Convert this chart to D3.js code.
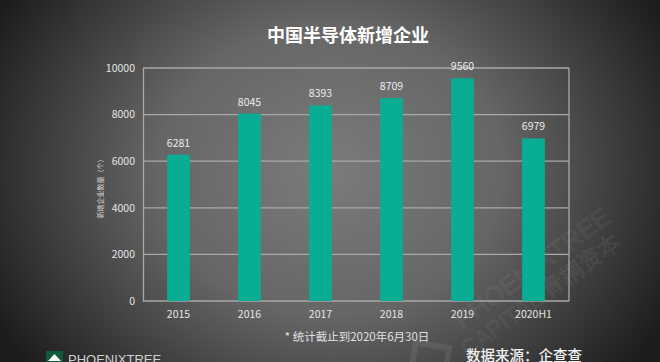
<!DOCTYPE html>
<html>
<head>
<meta charset="utf-8">
<script src="https://cdn.jsdelivr.net/npm/d3@7"></script>
<style>
  html, body { margin: 0; padding: 0; background: #333; }
  svg { display: block; }
</style>
</head>
<body>
<div id="chart"></div>
<script>
// chart data
var categories = ["2015", "2016", "2017", "2018", "2019", "2020H1"];
var newFirms = [6281, 8045, 8393, 8709, 9560, 6979];
var yTicks = [0, 2000, 4000, 6000, 8000, 10000];

var W = 660, H = 362;
var margin = { top: 68, right: 91, bottom: 61, left: 143 };
var font = "'Noto Sans CJK SC', 'Noto Sans', sans-serif";

var svg = d3.select("#chart").append("svg")
  .attr("width", W).attr("height", H);

// background: grey radial glow, dark corners
var defs = svg.append("defs");
var rg = defs.append("radialGradient").attr("id", "bg")
  .attr("gradientUnits", "userSpaceOnUse")
  .attr("cx", 330).attr("cy", 170).attr("r", 380)
  .attr("gradientTransform", "translate(330,170) scale(1,0.85) translate(-330,-170)");
rg.append("stop").attr("offset", "0%").attr("stop-color", "#7b7b7b");
rg.append("stop").attr("offset", "45%").attr("stop-color", "#666");
rg.append("stop").attr("offset", "100%").attr("stop-color", "#1c1c1c");
svg.append("rect").attr("width", W).attr("height", H).attr("fill", "url(#bg)");

var x = d3.scaleBand().domain(categories)
  .range([margin.left, W - margin.right])
  .paddingInner(0.68).paddingOuter(0.34);
var y = d3.scaleLinear().domain([0, 10000])
  .range([H - margin.bottom, margin.top]);

// faint watermark, bottom right (rotated group)
var wm = svg.append("g")
  .attr("transform", "translate(462,330) rotate(-36)")
  .attr("fill", "#fff").attr("fill-opacity", 0.04)
  .attr("stroke", "#fff").attr("stroke-opacity", 0.08).attr("stroke-width", 0.8)
  .attr("font-family", "'Liberation Sans', sans-serif");
wm.append("text").attr("x", 0).attr("y", 0)
  .attr("font-size", 26).text("PHOENIXTREE");
wm.append("text").attr("x", -12).attr("y", 26)
  .attr("font-size", 23).text("CAPITAL 青桐资本");
wm.append("rect").attr("x", -62).attr("y", -10).attr("width", 34).attr("height", 34)
  .attr("fill", "none").attr("stroke-width", 6)
  .attr("transform", "rotate(45,-45,7)");

// grid + frame
svg.append("g").selectAll("line").data(yTicks).enter().append("line")
  .attr("x1", margin.left).attr("x2", W - margin.right)
  .attr("y1", function (d) { return y(d); }).attr("y2", function (d) { return y(d); })
  .attr("stroke", "#a9a9a9").attr("stroke-width", 1.3);
svg.append("line")
  .attr("x1", W - margin.right).attr("x2", W - margin.right)
  .attr("y1", y(10000)).attr("y2", y(0))
  .attr("stroke", "#a9a9a9").attr("stroke-width", 1.3);

// y axis
var yAxis = svg.append("g").attr("transform", "translate(" + margin.left + ",0)")
  .call(d3.axisLeft(y).tickValues(yTicks).tickFormat(d3.format("d")).tickSize(0).tickPadding(8));
yAxis.select(".domain").attr("stroke", "#a9a9a9").attr("stroke-width", 1.3);
yAxis.selectAll("text").attr("fill", "#e6e6e6").attr("font-size", 10.5)
  .attr("font-family", font);

// x axis
var xAxis = svg.append("g").attr("transform", "translate(0," + (H - margin.bottom) + ")")
  .call(d3.axisBottom(x).tickSize(0).tickPadding(10));
xAxis.select(".domain").remove();
xAxis.selectAll("text").attr("fill", "#e6e6e6").attr("font-size", 10.5)
  .attr("font-family", font);

// bars
svg.selectAll(".bar").data(newFirms).enter().append("rect")
  .attr("class", "bar")
  .attr("x", function (d, i) { return x(categories[i]); })
  .attr("width", x.bandwidth())
  .attr("y", function (d) { return y(d); })
  .attr("height", function (d) { return y(0) - y(d); })
  .attr("fill", "#08ad93");

// value labels
svg.selectAll(".val").data(newFirms).enter().append("text")
  .attr("x", function (d, i) { return x(categories[i]) + x.bandwidth() / 2; })
  .attr("y", function (d) { return y(d) - 8; })
  .attr("text-anchor", "middle").attr("fill", "#eeeeee")
  .attr("font-size", 10.5).attr("font-family", font)
  .text(function (d) { return d; });

// title
svg.append("text").attr("x", 348).attr("y", 42).attr("text-anchor", "middle")
  .attr("fill", "#fff").attr("font-size", 18).attr("font-weight", "bold")
  .attr("font-family", font).text("中国半导体新增企业");

// y axis title
svg.append("text").attr("transform", "translate(103,187) rotate(-90)")
  .attr("text-anchor", "middle").attr("fill", "#d8d8d8")
  .attr("font-size", 7).attr("font-family", font).text("新增企业数量（个）");

// footnote
svg.append("text").attr("x", 357).attr("y", 341).attr("text-anchor", "middle")
  .attr("fill", "#e0e0e0").attr("font-size", 11.5).attr("font-family", font)
  .text("* 统计截止到2020年6月30日");

// source
svg.append("text").attr("x", 466).attr("y", 361)
  .attr("fill", "#f2f2f2").attr("font-size", 14.5).attr("font-weight", 500)
  .attr("font-family", font).text("数据来源：企查查");

// logo
svg.append("rect").attr("x", 46).attr("y", 351).attr("width", 17).attr("height", 12)
  .attr("fill", "#0e5b3c");
svg.append("path").attr("d", "M48,361 L54.5,354 L61,361 Z").attr("fill", "#fff");
svg.append("text").attr("x", 68).attr("y", 364)
  .attr("fill", "#d0d0d0").attr("font-size", 13)
  .attr("font-family", "'Liberation Sans', sans-serif").text("PHOENIXTREE");
</script>
</body>
</html>
